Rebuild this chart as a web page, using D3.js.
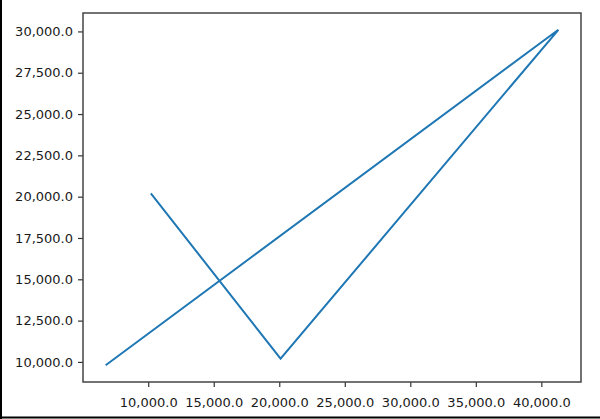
<!DOCTYPE html>
<html>
<head>
<meta charset="utf-8">
<script src="https://cdn.jsdelivr.net/npm/d3@7"></script>
<style>
  html, body { margin: 0; padding: 0; background: #fff; }
  svg { display: block; }
</style>
</head>
<body>
<svg id="chart" width="600" height="419"></svg>
<script>
// Data
const xValues = [6750, 41300, 20100, 10200];
const yValues = [9800, 30100, 10200, 20200];
const xTicks = [10000, 15000, 20000, 25000, 30000, 35000, 40000];
const yTicks = [10000, 12500, 15000, 17500, 20000, 22500, 25000, 27500, 30000];

const svg = d3.select("#chart");
const W = 600, H = 419;
const plot = { left: 83, right: 581, top: 13, bottom: 382 };

// matplotlib-style 5% margins
function padded(vals) {
  const [lo, hi] = d3.extent(vals);
  const r = hi - lo;
  return [lo - 0.05 * r, hi + 0.05 * r];
}
const x = d3.scaleLinear().domain(padded(xValues)).range([plot.left, plot.right]);
const y = d3.scaleLinear().domain(padded(yValues)).range([plot.bottom, plot.top]);

const fmt = d3.format(",.1f");

// outer frame (left and bottom black lines of the screenshot)
svg.append("line").attr("x1", 1).attr("x2", 1).attr("y1", 0).attr("y2", H)
  .attr("stroke", "#000").attr("stroke-width", 2);
svg.append("line").attr("x1", 0).attr("x2", W).attr("y1", 417.5).attr("y2", 417.5)
  .attr("stroke", "#000").attr("stroke-width", 2);

// line
const data = xValues.map((d, i) => [d, yValues[i]]);
svg.append("path")
  .datum(data)
  .attr("fill", "none")
  .attr("stroke", "#1f77b4")
  .attr("stroke-width", 2)
  .attr("stroke-linejoin", "miter")
  .attr("d", d3.line().x(d => x(d[0])).y(d => y(d[1])));

// axes
const xAxis = svg.append("g")
  .attr("transform", `translate(0,${plot.bottom})`)
  .call(d3.axisBottom(x).tickValues(xTicks).tickFormat(fmt).tickSize(5).tickPadding(11).tickSizeOuter(0));
const yAxis = svg.append("g")
  .attr("transform", `translate(${plot.left},0)`)
  .call(d3.axisLeft(y).tickValues(yTicks).tickFormat(fmt).tickSize(5).tickPadding(5).tickSizeOuter(0));

[xAxis, yAxis].forEach(g => {
  g.select(".domain").remove();
  g.selectAll(".tick line").attr("stroke", "#333").attr("stroke-width", 1.2);
  g.selectAll(".tick text")
    .attr("fill", "#1a1a1a")
    .style("font-family", "'DejaVu Sans', sans-serif")
    .style("font-size", "13px");
});

// spines
svg.append("rect")
  .attr("x", plot.left).attr("y", plot.top)
  .attr("width", plot.right - plot.left).attr("height", plot.bottom - plot.top)
  .attr("fill", "none").attr("stroke", "#444").attr("stroke-width", 1.5);
</script>
</body>
</html>
